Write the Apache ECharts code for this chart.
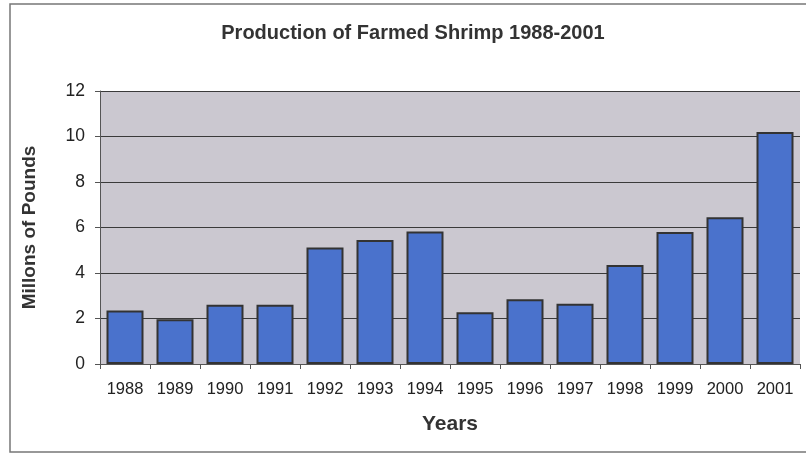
<!DOCTYPE html>
<html>
<head>
<meta charset="utf-8">
<script src="https://cdn.jsdelivr.net/npm/echarts@6/dist/echarts.min.js"></script>
<style>html,body{margin:0;padding:0;background:#fff}#c{width:806px;height:457px}</style>
</head>
<body>
<div id="c"></div>
<script>
const years = ['1988','1989','1990','1991','1992','1993','1994','1995','1996','1997','1998','1999','2000','2001'];
const production = [2.35, 1.97, 2.6, 2.6, 5.12, 5.45, 5.82, 2.28, 2.85, 2.65, 4.35, 5.8, 6.45, 10.2];
const titleText = 'Production of Farmed Shrimp 1988-2001';
const yAxisName = 'Millons of Pounds';
const xAxisName = 'Years';

const chart = echarts.init(document.getElementById('c'), null, {renderer: 'canvas'});
chart.setOption({
  animation: false,
  backgroundColor: '#ffffff',
  title: {
    text: titleText,
    left: 408, top: 18, textAlign: 'center',
    textStyle: {fontFamily: 'Liberation Sans, Arial, sans-serif', fontSize: 20, fontWeight: 'bold', color: '#333333'}
  },
  graphic: [{
    type: 'rect', shape: {x: 10, y: 4, width: 820, height: 448},
    style: {fill: 'none', stroke: '#777777', lineWidth: 1.5}, silent: true, z: -1
  }],
  grid: {left: 100, right: 6, top: 91, bottom: 93, show: true, backgroundColor: '#cbc8d0', borderWidth: 0},
  xAxis: {
    type: 'category', data: years,
    name: xAxisName, nameLocation: 'middle', nameGap: 50,
    nameTextStyle: {fontFamily: 'Liberation Sans, Arial, sans-serif', fontSize: 21, fontWeight: 'bold', color: '#333333'},
    axisLine: {lineStyle: {color: '#555555', width: 1}},
    axisTick: {show: true, alignWithLabel: false, length: 5, lineStyle: {color: '#555555'}},
    axisLabel: {fontFamily: 'Liberation Sans, Arial, sans-serif', fontSize: 16.5, color: '#222222', margin: 17}
  },
  yAxis: {
    type: 'value', min: 0, max: 12, interval: 2,
    name: yAxisName, nameLocation: 'middle', nameGap: 61,
    nameTextStyle: {fontFamily: 'Liberation Sans, Arial, sans-serif', fontSize: 19, fontWeight: 'bold', color: '#333333'},
    axisLine: {show: true, lineStyle: {color: '#555555', width: 1}},
    axisTick: {show: true, length: 5, lineStyle: {color: '#555555'}},
    axisLabel: {fontFamily: 'Liberation Sans, Arial, sans-serif', fontSize: 17.5, color: '#222222', margin: 15},
    splitLine: {show: true, lineStyle: {color: '#3a3a3a', width: 1}}
  },
  series: [{
    type: 'bar', data: production, barCategoryGap: '26%',
    itemStyle: {color: '#4a72cc', borderColor: '#333333', borderWidth: 2}
  }]
});
</script>
</body>
</html>
